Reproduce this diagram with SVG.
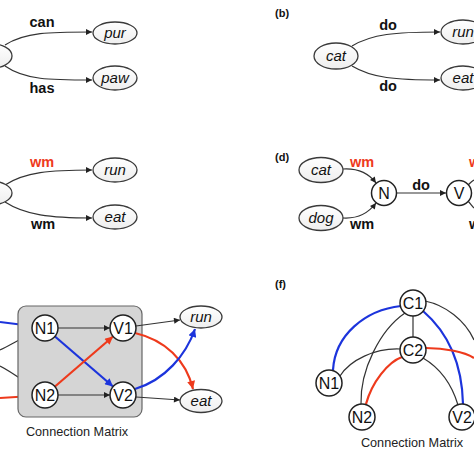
<svg xmlns="http://www.w3.org/2000/svg" width="474" height="474" viewBox="0 0 474 474">
<style>
.ell{fill:url(#g);stroke:#3a3a3a;stroke-width:1.3}
.cir{fill:#fff;stroke:#222;stroke-width:1.5}
.it{font-family:"Liberation Sans",Arial,sans-serif;font-style:italic;font-size:15px;fill:#111;text-anchor:middle}
.nd{font-family:"Liberation Sans",Arial,sans-serif;font-size:16px;fill:#111;text-anchor:middle}
.lb{font-family:"Liberation Sans",Arial,sans-serif;font-weight:bold;font-size:14.5px;fill:#111;text-anchor:middle}
.st{text-anchor:start}
.red{fill:#ee3a1c}
.pl{font-family:"Liberation Sans",Arial,sans-serif;font-weight:bold;font-size:11px;fill:#111}
.cm{font-family:"Liberation Sans",Arial,sans-serif;font-size:12.7px;fill:#222;text-anchor:middle}
.k{fill:none;stroke:#333;stroke-width:1.2}
.ka{fill:none;stroke:#333;stroke-width:1.2;marker-end:url(#ak)}
.b{fill:none;stroke:#1c34dc;stroke-width:2.2}
.ba{fill:none;stroke:#1c34dc;stroke-width:2.2;marker-end:url(#ab)}
.r{fill:none;stroke:#ee3a1c;stroke-width:2.2}
.ra{fill:none;stroke:#ee3a1c;stroke-width:2.2;marker-end:url(#ar)}
</style>
<defs>
<linearGradient id="g" x1="0" y1="0" x2="0" y2="1"><stop offset="0" stop-color="#fff"/><stop offset="1" stop-color="#eeeeee"/></linearGradient>
<marker id="ak" viewBox="0 0 10 10" refX="10" refY="5" markerWidth="7" markerHeight="6" markerUnits="userSpaceOnUse" orient="auto"><path d="M0,0L10,5L0,10z" fill="#222"/></marker>
<marker id="ab" viewBox="0 0 10 10" refX="10" refY="5" markerWidth="9" markerHeight="8" markerUnits="userSpaceOnUse" orient="auto"><path d="M0,0L10,5L0,10z" fill="#1c34dc"/></marker>
<marker id="ar" viewBox="0 0 10 10" refX="10" refY="5" markerWidth="9" markerHeight="8" markerUnits="userSpaceOnUse" orient="auto"><path d="M0,0L10,5L0,10z" fill="#ee3a1c"/></marker>
</defs>
<rect width="474" height="474" fill="#fff"/>

<g id="connectors">
<!-- a -->
<path class="ka" d="M5,45 C25,32 50,32 92,32"/>
<path class="ka" d="M5,66 C25,80 50,80 92,80"/>
<!-- b -->
<path class="ka" d="M352,46 C372,34 395,32 440,32"/>
<path class="ka" d="M352,66 C372,78 395,80 440,80"/>
<!-- c -->
<path class="ka" d="M5,185 C25,172 50,170 92,170"/>
<path class="ka" d="M5,202 C25,215 50,218 92,218"/>
<!-- d -->
<path class="ka" d="M343,169 C360,168 370,175 376,183"/>
<path class="ka" d="M343,218 C360,219 370,211 376,203"/>
<path class="ka" d="M397,193 L446,193"/>
<path class="k" d="M467,186 C470,183 472,181 474,180"/>
<path class="k" d="M467,200 C470,203 472,206 474,208"/>
<!-- e -->
<path class="ba" d="M0,322 L32,326"/>
<path class="ka" d="M0,350 C12,344 22,338 33,333"/>
<path class="ka" d="M0,366 C12,372 22,380 34,388"/>
<path class="ra" d="M0,398 L32,396"/>
</g>

<g id="panel-a">
<ellipse class="ell" cx="-10" cy="56" rx="22" ry="12.5"/>
<g id="a-pur"><ellipse class="ell" cx="115" cy="33" rx="22" ry="11"/><text class="it" x="115" y="38">pur</text></g>
<g id="a-paw"><ellipse class="ell" cx="115" cy="78" rx="22" ry="12"/><text class="it" x="115" y="83">paw</text></g>
<text class="lb" x="42" y="27">can</text>
<text class="lb" x="42" y="93">has</text>
</g>

<g id="panel-b">
<text class="pl" x="275" y="17">(b)</text>
<g id="b-cat"><ellipse class="ell" cx="336" cy="56" rx="22" ry="13"/><text class="it" x="336" y="61">cat</text></g>
<g id="b-run"><ellipse class="ell" cx="463" cy="32" rx="22" ry="12"/><text class="it" x="463" y="37">run</text></g>
<g id="b-eat"><ellipse class="ell" cx="463" cy="78" rx="22" ry="12"/><text class="it" x="463" y="83">eat</text></g>
<text class="lb" x="388" y="30">do</text>
<text class="lb" x="388" y="91">do</text>
</g>

<g id="panel-c">
<ellipse class="ell" cx="-10" cy="193" rx="22" ry="12"/>
<g id="c-run"><ellipse class="ell" cx="115" cy="170" rx="22" ry="12"/><text class="it" x="115" y="175">run</text></g>
<g id="c-eat"><ellipse class="ell" cx="115" cy="217" rx="22" ry="12"/><text class="it" x="115" y="222">eat</text></g>
<text class="lb red" x="42" y="167">wm</text>
<text class="lb" x="43" y="229">wm</text>
</g>

<g id="panel-d">
<text class="pl" x="275" y="161">(d)</text>
<g id="d-cat"><ellipse class="ell" cx="321" cy="170" rx="22" ry="12.5"/><text class="it" x="321" y="175">cat</text></g>
<g id="d-dog"><ellipse class="ell" cx="321" cy="218" rx="22" ry="12.5"/><text class="it" x="321" y="223">dog</text></g>
<g id="d-N"><circle class="cir" cx="384" cy="193" r="12.5"/><text class="nd" x="384" y="199">N</text></g>
<g id="d-V"><circle class="cir" cx="459" cy="193" r="12.5"/><text class="nd" x="459" y="199">V</text></g>
<text class="lb" x="421" y="190">do</text>
<text class="lb red" x="362" y="167">wm</text>
<text class="lb" x="362" y="229">wm</text>
<text class="lb red st" x="469" y="167">wm</text>
<text class="lb st" x="469" y="229">wm</text>
</g>

<g id="panel-e">
<rect x="18" y="306" width="124" height="111" rx="8" fill="#d5d5d5" stroke="#666" stroke-width="1.2"/>
<g id="e-edges">
<path class="ka" d="M58,328 L110,328"/>
<path class="ka" d="M58,395 L110,395"/>
<path class="ba" d="M55,336.5 L113,386.5"/>
<path class="ra" d="M55,386.5 L113,336.5"/>
<path class="ka" d="M136,326 L180,320"/>
<path class="ka" d="M136,397 L180,400"/>
<path class="ra" d="M135,333 C165,340 186,360 193,389"/>
<path class="ba" d="M135,389 C165,380 186,355 195,329"/>
</g>
<g id="e-N1"><circle class="cir" cx="45" cy="328" r="13"/><text class="nd" x="45" y="334">N1</text></g>
<g id="e-V1"><circle class="cir" cx="123" cy="328" r="13"/><text class="nd" x="123" y="334">V1</text></g>
<g id="e-N2"><circle class="cir" cx="45" cy="395" r="13"/><text class="nd" x="45" y="401">N2</text></g>
<g id="e-V2"><circle class="cir" cx="123" cy="395" r="13"/><text class="nd" x="123" y="401">V2</text></g>
<g id="e-run"><ellipse class="ell" cx="201" cy="317" rx="21" ry="11"/><text class="it" x="201" y="322">run</text></g>
<g id="e-eat"><ellipse class="ell" cx="201" cy="401" rx="21" ry="11.5"/><text class="it" x="201" y="406">eat</text></g>
<text class="cm" x="77" y="436">Connection Matrix</text>
</g>

<g id="panel-f">
<text class="pl" x="275" y="288">(f)</text>
<g id="f-edges">
<path class="k" d="M413,316 L413,337"/>
<path class="b" d="M401,306 C365,310 335,335 333,370"/>
<path class="k" d="M400,349 C375,348 350,360 340,376"/>
<path class="k" d="M405,313 C380,330 360,370 361,404"/>
<path class="r" d="M402,357 C388,362 372,382 366,404"/>
<path class="b" d="M423,311 C445,330 462,360 463,404"/>
<path class="k" d="M423,358 C440,368 452,385 458,405"/>
<path class="k" d="M425,301 C445,305 465,320 474,340"/>
<path class="r" d="M426,348 C445,348 465,352 474,358"/>
</g>
<g id="f-C1"><circle class="cir" cx="413" cy="303" r="13"/><text class="nd" x="413" y="309">C1</text></g>
<g id="f-C2"><circle class="cir" cx="413" cy="350" r="13"/><text class="nd" x="413" y="356">C2</text></g>
<g id="f-N1"><circle class="cir" cx="329" cy="383" r="13"/><text class="nd" x="329" y="389">N1</text></g>
<g id="f-N2"><circle class="cir" cx="362" cy="417" r="13"/><text class="nd" x="362" y="423">N2</text></g>
<g id="f-V2"><circle class="cir" cx="462" cy="417" r="13"/><text class="nd" x="462" y="423">V2</text></g>
<text class="cm" x="412" y="447">Connection Matrix</text>
</g>
</svg>
